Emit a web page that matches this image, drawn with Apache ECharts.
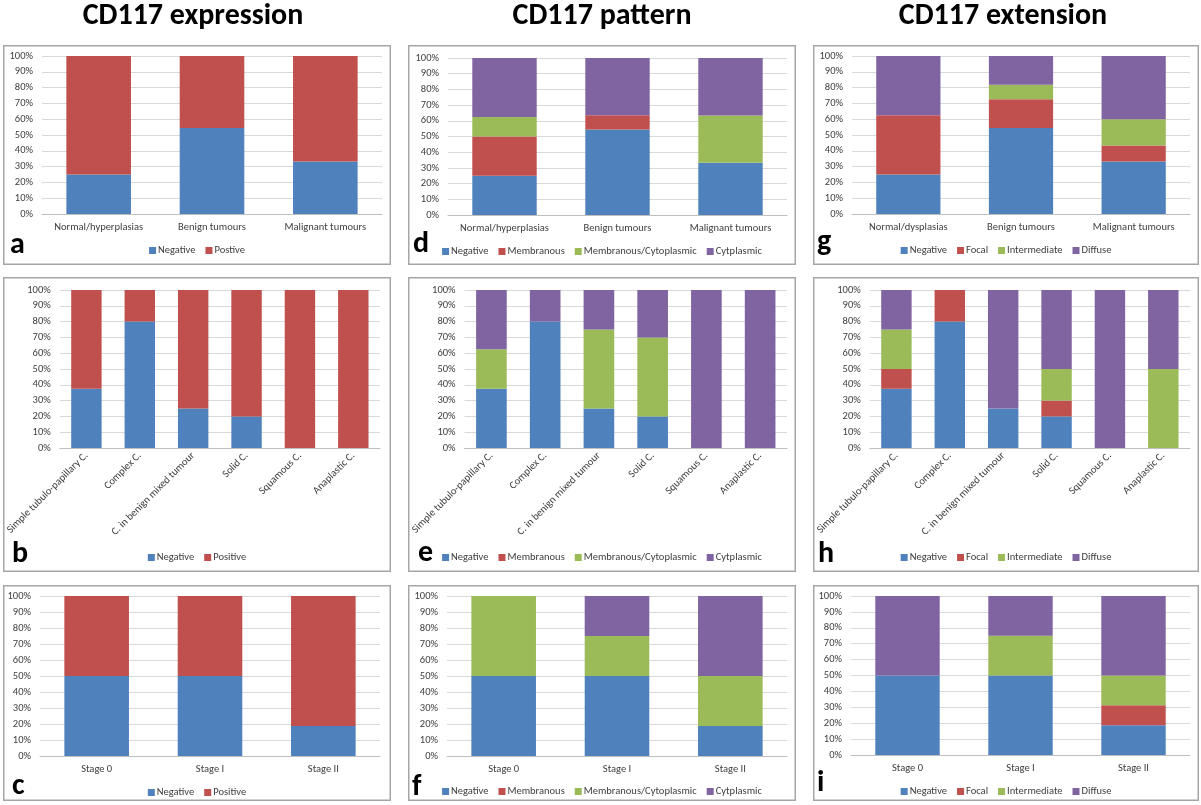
<!DOCTYPE html>
<html>
<head>
<meta charset="utf-8">
<script src="https://cdn.jsdelivr.net/npm/echarts@6/dist/echarts.min.js"></script>
<style>
html,body{margin:0;padding:0;background:#fff;}
#wrap{position:relative;width:1201px;height:805px;overflow:hidden;background:#fff;}
.c{position:absolute;}
</style>
</head>
<body>
<div id="wrap"></div>
<script>
// ---------- DATA ----------
const titles = ['CD117 expression', 'CD117 pattern', 'CD117 extension'];

const catsLesions = ['Normal/hyperplasias', 'Benign tumours', 'Malignant tumours'];
const catsLesionsExt = ['Normal/dysplasias', 'Benign tumours', 'Malignant tumours'];
const catsTypes = ['Simple tubulo-papillary C.', 'Complex C.', 'C. in benign mixed tumour', 'Solid C.', 'Squamous C.', 'Anaplastic C.'];
const catsStages = ['Stage 0', 'Stage I', 'Stage II'];

const namesExprA = ['Negative', 'Postive'];
const namesExpr = ['Negative', 'Positive'];
const namesPattern = ['Negative', 'Membranous', 'Membranous/Cytoplasmic', 'Cytplasmic'];
const namesExtension = ['Negative', 'Focal', 'Intermediate', 'Diffuse'];

// a: expression by lesion
const aNegative = [25, 54.5, 33.3];
const aPositive = [75, 45.5, 66.7];
// b: expression by carcinoma type
const bNegative = [37.5, 80, 25, 20, 0, 0];
const bPositive = [62.5, 20, 75, 80, 100, 100];
// c: expression by stage
const cNegative = [50, 50, 18.75];
const cPositive = [50, 50, 81.25];
// d: pattern by lesion
const dNegative = [25, 54.5, 33.3];
const dMembranous = [25, 9.1, 0];
const dMemCyto = [12.5, 0, 30];
const dCyto = [37.5, 36.4, 36.7];
// e: pattern by carcinoma type
const eNegative = [37.5, 80, 25, 20, 0, 0];
const eMembranous = [0, 0, 0, 0, 0, 0];
const eMemCyto = [25, 0, 50, 50, 0, 0];
const eCyto = [37.5, 20, 25, 30, 100, 100];
// f: pattern by stage
const fNegative = [50, 50, 18.75];
const fMembranous = [0, 0, 0];
const fMemCyto = [50, 25, 31.25];
const fCyto = [0, 25, 50];
// g: extension by lesion
const gNegative = [25, 54.5, 33.3];
const gFocal = [37.5, 18.2, 10];
const gIntermediate = [0, 9.1, 16.7];
const gDiffuse = [37.5, 18.2, 40];
// h: extension by carcinoma type
const hNegative = [37.5, 80, 25, 20, 0, 0];
const hFocal = [12.5, 20, 0, 10, 0, 0];
const hIntermediate = [25, 0, 0, 20, 0, 50];
const hDiffuse = [25, 0, 75, 50, 100, 50];
// i: extension by stage
const iNegative = [50, 50, 18.75];
const iFocal = [0, 0, 12.5];
const iIntermediate = [0, 25, 18.75];
const iDiffuse = [50, 25, 50];

// ---------- STYLE / LAYOUT ----------
const COLORS = ['#4F81BD', '#C0504D', '#9BBB59', '#8064A2'];
const FONT = 'Carlito, Calibri, Lato, "Liberation Sans", sans-serif';
const BOLD_FONT = 'Carlito, Calibri, "Liberation Sans", Arial, sans-serif';
const TXT = '#404040';

const panels = [
  {letter:'a', box:[3,45,388,220], grid:[39,11,340,158], cats:catsLesions, names:namesExprA, values:[aNegative,aPositive], rot:0, legendTop:195, lx:7, ly:209},
  {letter:'b', box:[3,277,388,295], grid:[54,13,323,158], cats:catsTypes, names:namesExpr, values:[bNegative,bPositive], rot:45, legendTop:270, lx:9, ly:286},
  {letter:'c', box:[3,585,388,216], grid:[37,11,340,160], cats:catsStages, names:namesExpr, values:[cNegative,cPositive], rot:0, legendTop:197, lx:9, ly:210},
  {letter:'d', box:[408,45,388,220], grid:[40,13,339,157], cats:catsLesions, names:namesPattern, values:[dNegative,dMembranous,dMemCyto,dCyto], rot:0, legendTop:196, lx:5, ly:208},
  {letter:'e', box:[408,277,388,295], grid:[54,13,325,158], cats:catsTypes, names:namesPattern, values:[eNegative,eMembranous,eMemCyto,eCyto], rot:45, legendTop:270, lx:10, ly:285},
  {letter:'f', box:[408,585,388,216], grid:[39,11,340,160], cats:catsStages, names:namesPattern, values:[fNegative,fMembranous,fMemCyto,fCyto], rot:0, legendTop:196, lx:4, ly:211},
  {letter:'g', box:[813,45,386,220], grid:[39,11,338,158], cats:catsLesionsExt, names:namesExtension, values:[gNegative,gFocal,gIntermediate,gDiffuse], rot:0, legendTop:195, lx:4, ly:206},
  {letter:'h', box:[813,277,386,295], grid:[54,13,323,158], cats:catsTypes, names:namesExtension, values:[hNegative,hFocal,hIntermediate,hDiffuse], rot:45, legendTop:270, lx:5, ly:286},
  {letter:'i', box:[813,585,386,216], grid:[38,11,339,159], cats:catsStages, names:namesExtension, values:[iNegative,iFocal,iIntermediate,iDiffuse], rot:0, legendTop:196, lx:4, ly:207}
];

const wrap = document.getElementById('wrap');

// titles
(function(){
  const el = document.createElement('div');
  el.className = 'c';
  el.style.cssText = 'left:0;top:0;width:1201px;height:44px;';
  wrap.appendChild(el);
  const ch = echarts.init(el, null, {renderer:'canvas'});
  const xs = [193, 602, 1003];
  ch.setOption({
    animation:false,
    graphic: titles.map((t,i)=>({
      type:'text', x:xs[i], y:16,
      style:{text:t, font:'bold 30px ' + BOLD_FONT, fill:'#000', align:'center', verticalAlign:'middle'}
    }))
  });
})();

panels.forEach(p => {
  const [bx,by,bw,bh] = p.box;
  const el = document.createElement('div');
  el.className = 'c';
  el.style.cssText = `left:${bx}px;top:${by}px;width:${bw}px;height:${bh}px;`;
  wrap.appendChild(el);
  const ch = echarts.init(el, null, {renderer:'canvas'});
  ch.setOption({
    animation:false,
    color: COLORS,
    grid: {left:p.grid[0], top:p.grid[1], width:p.grid[2], height:p.grid[3]},
    xAxis: {
      type:'category', data:p.cats,
      axisLine:{lineStyle:{color:'#BFBFBF', width:1}},
      axisTick:{show:false},
      axisLabel:{interval:0, rotate:p.rot, fontSize:10.5, color:TXT, fontFamily:FONT, margin:p.rot?6:8}
    },
    yAxis: {
      type:'value', min:0, max:100, interval:10,
      axisLine:{show:false}, axisTick:{show:false},
      axisLabel:{formatter:'{value}%', fontSize:10.5, color:TXT, fontFamily:FONT, margin:9},
      splitLine:{lineStyle:{color:'#D9D9D9', width:1}}
    },
    legend: {
      data:p.names, left:'center', top:p.legendTop, icon:'rect',
      itemWidth:7, itemHeight:7, itemGap:10, selectedMode:false,
      textStyle:{fontSize:10.5, color:TXT, fontFamily:FONT, padding:[0,0,0,-3]}
    },
    series: p.names.map((n,i)=>({
      name:n, type:'bar', stack:'total', data:p.values[i], barWidth:'57%',
      itemStyle:{color:COLORS[i]}
    })),
    graphic: [
      {type:'rect', silent:true, z:-10, shape:{x:0.75, y:0.75, width:bw-1.5, height:bh-1.5},
       style:{fill:'none', stroke:'#A6A6A6', lineWidth:1.5}},
      {type:'text', x:p.lx, y:p.ly + 6,
       style:{text:p.letter, font:'bold 30px ' + BOLD_FONT, fill:'#000', align:'left', verticalAlign:'bottom'}}
    ]
  });
});
</script>
</body>
</html>
